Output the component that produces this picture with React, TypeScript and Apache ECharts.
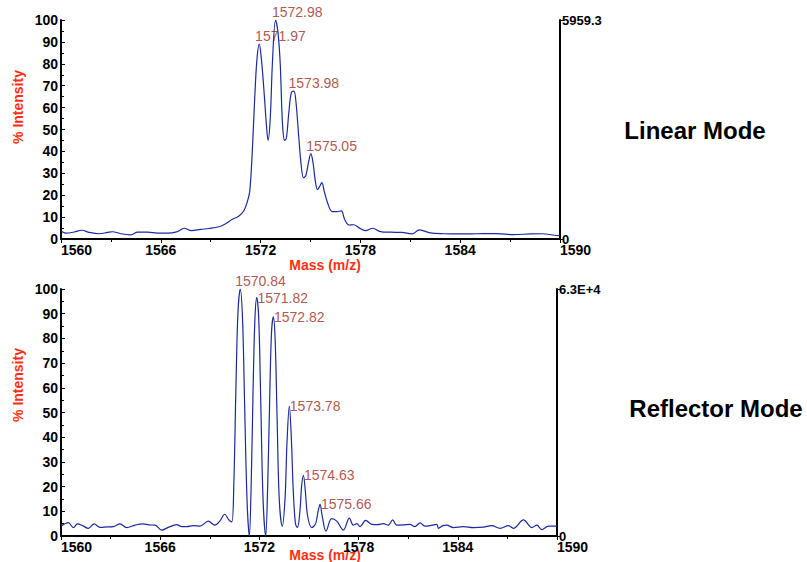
import React, { useEffect, useRef } from "react";
import * as echarts from "echarts";

const linearMass = [
  1560.0, 1560.3, 1560.8, 1561.25, 1561.7, 1562.3, 1562.8, 1563.1, 1563.6, 1564.2,
  1564.6, 1565.2, 1565.8, 1566.4, 1567.0, 1567.4, 1567.85, 1568.4, 1568.9, 1569.5,
  1569.9, 1570.3, 1570.7, 1571.0, 1571.2, 1571.35, 1571.5, 1571.65, 1571.78, 1571.92,
  1572.05, 1572.2, 1572.35, 1572.45, 1572.58, 1572.72, 1572.9, 1573.05, 1573.18, 1573.32,
  1573.45, 1573.55, 1573.7, 1573.85, 1574.0, 1574.12, 1574.3, 1574.45, 1574.58, 1574.72,
  1574.88, 1575.02, 1575.15, 1575.28, 1575.42, 1575.55, 1575.68, 1575.85, 1576.05, 1576.3,
  1576.55, 1576.85, 1577.05, 1577.3, 1577.6, 1577.9, 1578.3, 1578.75, 1579.2, 1579.8,
  1580.5, 1581.1, 1581.55, 1582.2, 1583.0, 1584.0, 1585.0, 1586.2, 1587.2, 1588.2,
  1588.9, 1589.8, 1590.0,
];
const linearIntensity = [
  3.7, 2.7, 3.2, 4.0, 3.0, 2.4, 3.0, 3.3, 2.4, 1.9,
  3.1, 3.1, 2.7, 2.7, 3.4, 4.9, 3.8, 4.4, 4.8, 5.6,
  7.0, 9.0, 10.5, 13, 17, 22, 40, 65, 82, 89,
  82, 68, 52, 45, 55, 82, 100, 94, 80, 52,
  45, 46, 58, 67, 67.5, 63, 46, 33, 28, 29,
  35, 39, 35, 27, 22.5, 24, 25.7, 21, 16, 12.5,
  12.5, 12.8, 9, 6.4, 6.5, 5.2, 3.8, 4.9, 3.4, 3.1,
  3.0, 2.3, 4.2, 2.8, 2.4, 2.3, 2.4, 2.5, 2.0, 2.3,
  2.4, 1.6, 1.5,
];

const reflectorMass = [
  1560.0, 1560.44, 1560.75, 1561.0, 1561.3, 1561.65, 1562.0, 1562.36, 1562.8, 1563.16,
  1563.57, 1563.97, 1564.48, 1564.98, 1565.3, 1565.69, 1566.09, 1566.49, 1567.0, 1567.3,
  1567.6, 1568.0, 1568.4, 1568.91, 1569.3, 1569.6, 1569.9, 1570.15, 1570.33, 1570.45,
  1570.58, 1570.7, 1570.84, 1570.98, 1571.1, 1571.25, 1571.39, 1571.5, 1571.62, 1571.73,
  1571.84, 1571.96, 1572.08, 1572.22, 1572.38, 1572.5, 1572.62, 1572.73, 1572.84, 1572.95,
  1573.07, 1573.2, 1573.38, 1573.55, 1573.67, 1573.81, 1573.93, 1574.05, 1574.18, 1574.3,
  1574.45, 1574.55, 1574.66, 1574.78, 1574.92, 1575.17, 1575.4, 1575.55, 1575.67, 1575.8,
  1576.03, 1576.37, 1576.68, 1577.08, 1577.44, 1577.68, 1577.9, 1578.09, 1578.43, 1578.8,
  1579.15, 1579.5, 1579.8, 1580.06, 1580.3, 1580.7, 1581.1, 1581.4, 1581.72, 1582.0,
  1582.4, 1582.73, 1582.83, 1583.1, 1583.33, 1583.73, 1584.34, 1584.95, 1585.55, 1586.05,
  1586.56, 1587.06, 1587.36, 1587.97, 1588.48, 1588.78, 1589.08, 1589.48, 1590.0,
];
const reflectorIntensity = [
  4.0, 5.4, 3.4, 4.9, 4.2, 3.1, 4.9, 3.5, 3.7, 3.8,
  4.9, 3.4, 4.4, 4.9, 4.5, 4.4, 2.4, 3.5, 4.6, 3.8,
  3.8, 4.2, 4.0, 6.0, 4.4, 6.0, 8.8, 6.5, 5.7, 20,
  60, 90, 100, 88, 55, 15, 0, 20, 60, 88,
  96.5, 88, 55, 15, 0, 20, 55, 82, 88.7, 80,
  48, 15, 4, 15, 38, 52.6, 40, 18, 5, 3.4,
  10, 20, 24.6, 18, 8, 3.4, 5, 10, 12.8, 8,
  2, 7, 6, 2.4, 7.2, 4.4, 5, 3.8, 6.3, 4.7,
  4.6, 5, 4.4, 6.5, 4.4, 4.5, 4.7, 3.8, 5.3, 4.0,
  4.3, 4.7, 3.1, 4.2, 4.4, 3.4, 3.8, 3.4, 3.6, 4.2,
  3.1, 4.2, 3.1, 6.5, 3.4, 4.4, 2.6, 4.0, 4.0,
];

const linearPeakMass = [1571.97, 1572.98, 1573.98, 1575.05];
const linearPeakIntensity = [89, 100, 67.5, 39];
const linearPeakLabels = ["1571.97", "1572.98", "1573.98", "1575.05"];

const reflectorPeakMass = [1570.84, 1571.82, 1572.82, 1573.78, 1574.63, 1575.66];
const reflectorPeakIntensity = [100, 96.5, 88.7, 52.6, 24.6, 12.8];
const reflectorPeakLabels = ["1570.84", "1571.82", "1572.82", "1573.78", "1574.63", "1575.66"];

const massTicks = { min: 1560, max: 1590, interval: 6 };
const linearAbsMax = 5959.3;
const linearAbsLabel = "5959.3";
const reflectorAbsMax = 63000;
const reflectorAbsLabel = "6.3E+4";

const LINE = "#1b2a9c";
const LABEL = "#9c2a22";
const TITLE = "#ff2e12";
const FONT = "Liberation Sans, Arial, sans-serif";

function xAxisCfg(gridIndex: number) {
  return {
    type: "value",
    gridIndex,
    min: massTicks.min,
    max: massTicks.max,
    interval: massTicks.interval,
    axisLine: { show: true, onZero: false, lineStyle: { color: "#000", width: 2 } },
    axisTick: { show: true, length: 4, lineStyle: { color: "#000", width: 1 } },
    minorTick: { show: true, splitNumber: 2, length: 3, lineStyle: { color: "#000", width: 1 } },
    axisLabel: {
      color: "#000",
      fontWeight: "bold",
      fontSize: 14,
      fontFamily: FONT,
      margin: 4,
      alignMinLabel: "left",
      alignMaxLabel: "left",
      formatter: (v: number) => String(v),
    },
    splitLine: { show: false },
  };
}

function leftAxisCfg(gridIndex: number) {
  return {
    type: "value",
    gridIndex,
    position: "left",
    min: 0,
    max: 100,
    interval: 10,
    axisLine: { show: true, onZero: false, lineStyle: { color: "#000", width: 2 } },
    axisTick: { show: true, inside: true, length: 4, lineStyle: { color: "#000" } },
    minorTick: { show: true, splitNumber: 2, length: 3, lineStyle: { color: "#000" } },
    axisLabel: { color: "#000", fontWeight: "bold", fontSize: 14, fontFamily: FONT, margin: 3 },
    splitLine: { show: false },
  };
}

function rightAxisCfg(gridIndex: number, max: number, label: string) {
  return {
    type: "value",
    gridIndex,
    position: "right",
    min: 0,
    max,
    interval: max,
    axisLine: { show: true, onZero: false, lineStyle: { color: "#000", width: 2 } },
    axisTick: { show: true, length: 3, lineStyle: { color: "#000" } },
    axisLabel: {
      color: "#000",
      fontWeight: "bold",
      fontSize: 13,
      fontFamily: FONT,
      margin: 2,
      formatter: (v: number) => (v === 0 ? "0" : label),
    },
    splitLine: { show: false },
  };
}

function pairs(xs: number[], ys: number[]) {
  return xs.map((x, i) => [x, ys[i]]);
}

function titleText(text: string, x: number, y: number, rotated: boolean, size: number, color: string) {
  return {
    type: "text",
    x,
    y,
    rotation: rotated ? Math.PI / 2 : 0,
    style: {
      text,
      fill: color,
      font: `bold ${size}px ${FONT}`,
      textAlign: "center",
      textVerticalAlign: "middle",
      align: "center",
      verticalAlign: "middle",
    },
  };
}

export default function App() {
  const ref = useRef<HTMLDivElement>(null);
  useEffect(() => {
    if (!ref.current) return;
    const chart = echarts.init(ref.current, null, { renderer: "svg" });
    const labelBase = { color: LABEL, fontSize: 14, fontFamily: FONT };
    const option: any = {
      animation: false,
      backgroundColor: "#fff",
      grid: [
        { left: 61, right: 247, top: 20, height: 219 },
        { left: 61, right: 250, top: 289, height: 247 },
      ],
      xAxis: [xAxisCfg(0), xAxisCfg(1)],
      yAxis: [
        leftAxisCfg(0),
        rightAxisCfg(0, linearAbsMax, linearAbsLabel),
        leftAxisCfg(1),
        rightAxisCfg(1, reflectorAbsMax, reflectorAbsLabel),
      ],
      series: [
        {
          type: "line",
          xAxisIndex: 0,
          yAxisIndex: 0,
          data: pairs(linearMass, linearIntensity),
          showSymbol: false,
          smooth: 0.35,
          lineStyle: { color: LINE, width: 1.2 },
          silent: true,
        },
        {
          type: "line",
          xAxisIndex: 1,
          yAxisIndex: 2,
          data: pairs(reflectorMass, reflectorIntensity),
          showSymbol: false,
          smooth: 0.35,
          lineStyle: { color: LINE, width: 1.2 },
          silent: true,
        },
        {
          type: "scatter",
          xAxisIndex: 0,
          yAxisIndex: 0,
          symbolSize: 0,
          silent: true,
          data: linearPeakMass.map((m, i) => ({
            value: [m, linearPeakIntensity[i]],
            label: {
              show: true,
              ...labelBase,
              formatter: linearPeakLabels[i],
              position: "top",
              align: "left",
              distance: 1,
              offset: [-5, 0],
            },
          })),
        },
        {
          type: "scatter",
          xAxisIndex: 1,
          yAxisIndex: 2,
          symbolSize: 0,
          silent: true,
          data: reflectorPeakMass.map((m, i) => ({
            value: [m, reflectorPeakIntensity[i]],
            label:
              i === 0
                ? {
                    show: true,
                    ...labelBase,
                    formatter: reflectorPeakLabels[i],
                    position: "top",
                    align: "left",
                    distance: 1,
                    offset: [-5, 0],
                  }
                : {
                    show: true,
                    ...labelBase,
                    formatter: reflectorPeakLabels[i],
                    position: "right",
                    distance: 1,
                  },
          })),
        },
      ],
      graphic: [
        titleText("% Intensity", 18, 107, true, 14, TITLE),
        titleText("% Intensity", 18, 385, true, 14, TITLE),
        titleText("Mass (m/z)", 325, 265, false, 14, TITLE),
        titleText("Mass (m/z)", 325, 555, false, 14, TITLE),
        titleText("Linear Mode", 695, 130, false, 24, "#000"),
        titleText("Reflector Mode", 716, 408, false, 24, "#000"),
      ],
    };
    chart.setOption(option);
    return () => chart.dispose();
  }, []);
  return (
    <div
      ref={ref}
      style={{ position: "absolute", left: 0, top: 0, width: 807, height: 562, background: "#fff" }}
    />
  );
}
